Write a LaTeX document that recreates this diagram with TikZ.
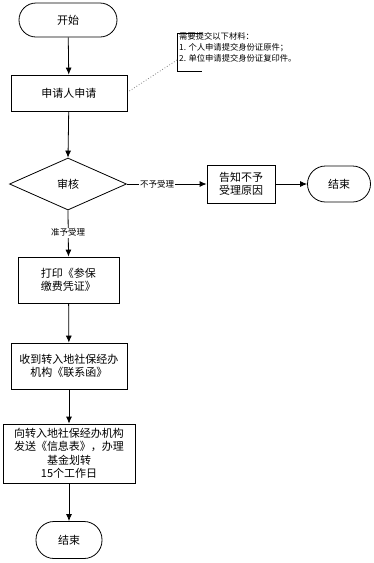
\documentclass[tikz,border=0pt]{standalone}
\usepackage{fontspec}
\setmainfont{Noto Sans CJK SC}
\usetikzlibrary{shapes.geometric,arrows.meta}
\begin{document}
\begin{tikzpicture}[x=1pt,y=-1pt,
  every node/.style={font=\fontsize{11}{13.5}\selectfont, align=center, inner sep=0pt},
  term/.style={draw, line width=0.8pt, rounded corners=17pt},
  proc/.style={draw, line width=0.8pt},
  dec/.style={draw, line width=0.8pt, diamond, minimum width=117pt, minimum height=52pt},
  lbl/.style={fill=white, font=\fontsize{8.5}{10}\selectfont, inner sep=1pt},
  arr/.style={line width=0.8pt, -{Latex[length=7pt,width=6pt]}}]
\useasboundingbox (0,0) rectangle (373,563);
\node[term, minimum width=98pt, minimum height=34pt] (start) at (68,20) {开始};
\node[proc, minimum width=116pt, minimum height=36pt] (apply) at (69,93) {申请人申请};
\node[dec] (check) at (68,184) {审核};
\node[proc, minimum width=68pt, minimum height=38pt] (notify) at (241,184) {告知不予\\受理原因};
\node[term, rounded corners=18pt, minimum width=63pt, minimum height=36pt] (end1) at (339,184) {结束};
\node[proc, minimum width=101pt, minimum height=46pt] (print) at (68.5,280) {打印《参保\\缴费凭证》};
\node[proc, minimum width=116pt, minimum height=46pt] (recv) at (69,366) {收到转入地社保经办\\机构《联系函》};
\node[proc, minimum width=132pt, minimum height=59pt] (send) at (69,453.5) {向转入地社保经办机构\\发送《信息表》，办理\\基金划转\\15个工作日};
\node[term, rounded corners=18pt, minimum width=66pt, minimum height=37pt] (end2) at (69,540) {结束};
% annotation
\node[anchor=north west, align=left, font=\fontsize{8.3}{11}\selectfont] (note) at (179,32) {需要提交以下材料：\\1. 个人申请提交身份证原件；\\2. 单位申请提交身份证复印件。};
\coordinate (bt) at (202,33);
\coordinate (bb) at (202,71);
\coordinate (bm) at (177,60);
\draw[line width=0.8pt] (bt) -- (177,33) -- (177,71) -- (bb);
\draw[dotted, gray, line width=0.8pt] (apply.east) ++(2,-2) -- (bm);
% arrows
\draw[arr] (start) -- (apply);
\draw[arr] (apply) -- (check.north);
\draw[arr] (check.east) -- node[lbl, pos=0.38] {不予受理} (notify.west);
\draw[arr] (notify) -- (end1);
\draw[arr] (check.south) -- node[lbl, pos=0.48] {准予受理} (print.north);
\draw[arr] (print) -- (recv);
\draw[arr] (recv) -- (send);
\draw[arr] (send) -- (end2);
\end{tikzpicture}
\end{document}
